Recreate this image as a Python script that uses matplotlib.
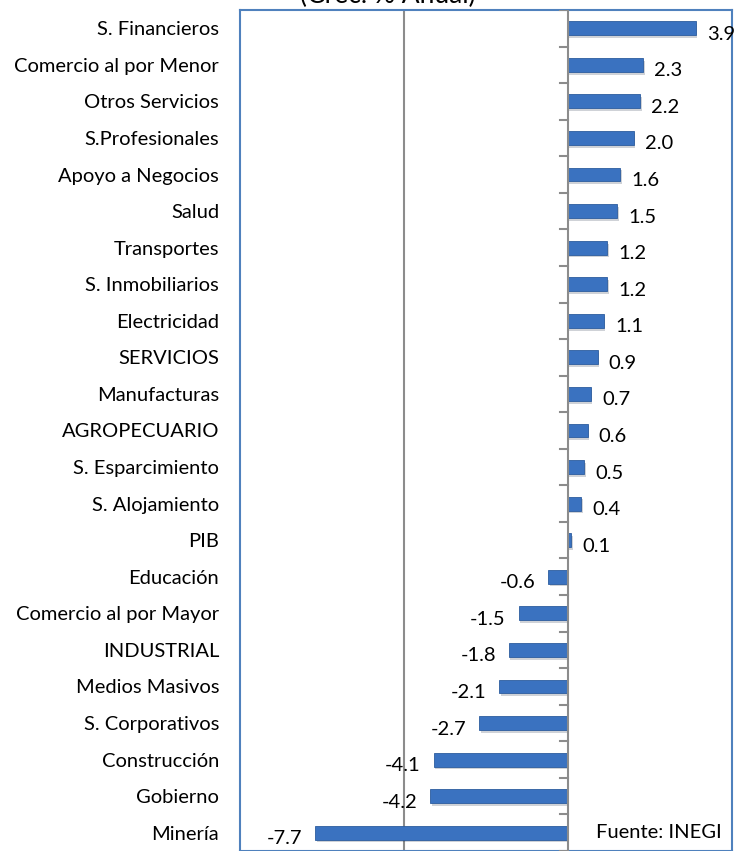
import matplotlib
matplotlib.use('Agg')
import matplotlib.pyplot as plt
from matplotlib import patheffects

plt.rcParams['font.family'] = ['Lato', 'DejaVu Sans']

sectores = ['S. Financieros', 'Comercio al por Menor', 'Otros Servicios', 'S.Profesionales',
            'Apoyo a Negocios', 'Salud', 'Transportes', 'S. Inmobiliarios', 'Electricidad',
            'SERVICIOS', 'Manufacturas', 'AGROPECUARIO', 'S. Esparcimiento', 'S. Alojamiento',
            'PIB', 'Educación', 'Comercio al por Mayor', 'INDUSTRIAL', 'Medios Masivos',
            'S. Corporativos', 'Construcción', 'Gobierno', 'Minería']
crec = [3.9, 2.3, 2.2, 2.0, 1.6, 1.5, 1.2, 1.2, 1.1, 0.9, 0.7, 0.6, 0.5, 0.4, 0.1,
        -0.6, -1.5, -1.8, -2.1, -2.7, -4.1, -4.2, -7.7]

W, H = 737, 851
fig = plt.figure(figsize=(W / 100, H / 100), dpi=100)
ax = fig.add_axes([240 / W, 0, (732 - 240) / W, (851 - 10) / H])

y = list(range(len(sectores)))
sombra = [patheffects.SimplePatchShadow(offset=(1, -2), alpha=0.2), patheffects.Normal()]
bars = ax.barh(y, crec, height=0.38, color='#3a72c0', edgecolor='#2c5c9e', linewidth=0.6, zorder=3)
for b in bars:
    b.set_path_effects(sombra)

ax.set_xlim(-10, 5)
ax.set_ylim(len(sectores) - 0.5, -0.5)
ax.set_xticks([])
ax.set_yticks(y)
ax.set_yticklabels(sectores, fontsize=14.5)
ax.tick_params(axis='y', length=0, pad=15)

ax.axvline(-5, color='#8c8c8c', lw=1.5, zorder=1)
ax.axvline(0, color='#8c8c8c', lw=1.5, zorder=4)
tr = ax.get_yaxis_transform()
x0 = 10 / 15
for k in range(len(sectores) + 1):
    ax.plot([x0 - 0.016, x0], [k - 0.5, k - 0.5], color='#8c8c8c', lw=1.5, transform=tr, zorder=4)

for spine in ax.spines.values():
    spine.set_color('#4f81bd')
    spine.set_linewidth(1.5)

for yi, v in zip(y, crec):
    if v >= 0:
        ax.annotate(f'{v:.1f}', (v, yi), xytext=(11, -6), textcoords='offset pixels',
                    ha='left', va='center', fontsize=14.5, zorder=5)
    else:
        ax.annotate(f'{v:.1f}', (v, yi), xytext=(-13, -6), textcoords='offset pixels',
                    ha='right', va='center', fontsize=14.5, zorder=5)

ax.text(0.724, len(sectores) - 1 + 0.15, 'Fuente: INEGI', transform=tr, fontsize=14.5,
        ha='left', va='baseline')

fig.text(388 / W, 1 - 3 / H, '(Crec. % Anual)', ha='center', va='baseline', fontsize=19)

fig.savefig('out.png', dpi=100)
